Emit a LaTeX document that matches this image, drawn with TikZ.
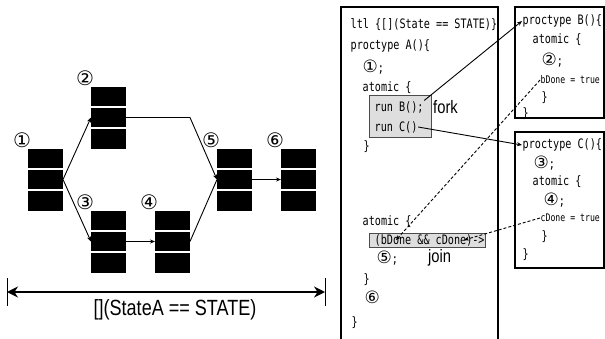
\documentclass[tikz,border=0pt]{standalone}
\usepackage{fontspec}
\newfontfamily\codefont[FakeStretch=0.78]{DejaVu Sans Mono}
\newfontfamily\numfont{DejaVu Sans}
\newfontfamily\labelfont[FakeStretch=0.82]{Liberation Sans}
\usetikzlibrary{arrows.meta,positioning}
\newcommand{\cnum}[1]{{\numfont\fontsize{17}{13}\selectfont #1}}

\begin{document}
\begin{tikzpicture}[x=1pt,y=-1pt,
  blk/.style={fill=black,minimum width=35pt,minimum height=19.5pt,inner sep=0pt,outer sep=0pt},
  num/.style={font=\numfont\fontsize{20}{20}\selectfont,inner sep=0pt},
  code/.style={font=\codefont\fontsize{13}{15}\selectfont,inner sep=0.5pt,anchor=west},
  small/.style={code,font=\codefont\fontsize{10.5}{12}\selectfont},
  lbl/.style={font=\labelfont\fontsize{18}{20}\selectfont,inner sep=0pt},
  graybox/.style={draw=black!70,fill=black!13,line width=0.8pt,inner sep=0pt},
  frame/.style={draw,line width=1.2pt},
  arr/.style={-{Stealth[length=5pt,width=4pt]},line width=0.9pt},
  darr/.style={arr,dash pattern=on 3pt off 2pt}]
\useasboundingbox (0,0) rectangle (605,338);
\foreach \n/\x/\y/\c in {1/45.5/179.5/①,2/108.5/117.5/②,3/108.5/241.5/③,4/172.5/241.5/④,5/234.5/179.5/⑤,6/298.5/179.5/⑥}{
  \node[blk] (mid\n) at (\x,\y) {};
  \node[blk,above=1.75pt of mid\n] (top\n) {};
  \node[blk,below=1.75pt of mid\n] (bot\n) {};
  \node[num] (n\n) at ([xshift=-6pt,yshift=8pt]top\n.north west) {\c};
}
\draw[arr] (mid1.east) -- (mid2.west);
\draw[arr] (mid1.east) -- (mid3.west);
\draw[arr] (mid3.east) -- (mid4.west);
\draw[arr] (mid2.east) -- (mid4.east |- mid2.east) -- (mid5.west);
\draw[line width=0.9pt] (mid4.east) -- (mid5.west);
\draw[arr] (mid5.east) -- (mid6.west);
\coordinate (spanl) at (7,292);
\coordinate (spanr) at (325,292);
\draw[line width=1pt] ([yshift=14pt]spanl) -- ([yshift=-14pt]spanl);
\draw[line width=1pt] ([yshift=14pt]spanr) -- ([yshift=-14pt]spanr);
\draw[{Stealth[length=11pt,width=11pt]}-{Stealth[length=11pt,width=11pt]},line width=2.2pt] (spanl) -- (spanr);
\node[lbl,font=\labelfont\fontsize{22}{24}\selectfont] (always) at (175,310) {[](StateA == STATE)};
\draw[frame] (341,7) rectangle (498,345);
\draw[frame,line width=1.5pt] (515,7) rectangle (604,118);
\draw[frame,line width=1.5pt] (515,132) rectangle (604,268);
\node[code] (ltl) at (350,25) {ltl \{[](State == STATE)\}};
\node[code] (proca) at (350,46) {proctype A()\{};
\node[code] (st1) at (362,67) {\cnum{①};};
\node[code] (atoma) at (362,88) {atomic \{};
\node[graybox,minimum width=62pt,minimum height=42pt] (forkbox) at (400,116) {};
\node[code] (runb) at (374,107) {run B();};
\node[code] (runc) at (374,127) {run C()};
\node[lbl,anchor=west] (fork) at (433,107) {fork};
\node[code] (enda) at (363,147) {\}};
\node[code] (atomj) at (362,222) {atomic \{};
\node[graybox,minimum width=116pt,minimum height=14pt] (joinbox) at (427,240) {};
\node[code] (cond) at (374,240) {(bDone \&\& cDone)->};
\node[code] (st5) at (376,258) {\cnum{⑤};};
\node[lbl,anchor=west] (join) at (428,258) {join};
\node[code] (endj) at (363,280) {\}};
\node[code] (st6) at (364,297) {\cnum{⑥}};
\node[code] (endp) at (351,323) {\}};
\node[code] (procb) at (522,21) {proctype B()\{};
\node[code] (atomb) at (532,40) {atomic \{};
\node[code] (st2) at (541,60) {\cnum{②};};
\node[small] (bdone) at (540,80) {bDone = true};
\node[code] (endb1) at (541,98) {\}};
\node[code] (endb2) at (522,114) {\}};
\node[code] (procc) at (522,145) {proctype C()\{};
\node[code] (st3) at (533,163) {\cnum{③};};
\node[code] (atomc) at (532,182) {atomic \{};
\node[code] (st4) at (543,200) {\cnum{④};};
\node[small] (cdone) at (540,218) {cDone = true};
\node[code] (endc1) at (541,237) {\}};
\node[code] (endc2) at (522,255) {\}};
\draw[arr] (runb.north east) -- (procb.west);
\draw[arr] (runc.east) -- (procc.west);
\draw[darr] (bdone.west) -- ([xshift=22pt]cond.west);
\draw[darr] (cdone.west) -- ([xshift=90pt]cond.west);
\end{tikzpicture}
\end{document}
